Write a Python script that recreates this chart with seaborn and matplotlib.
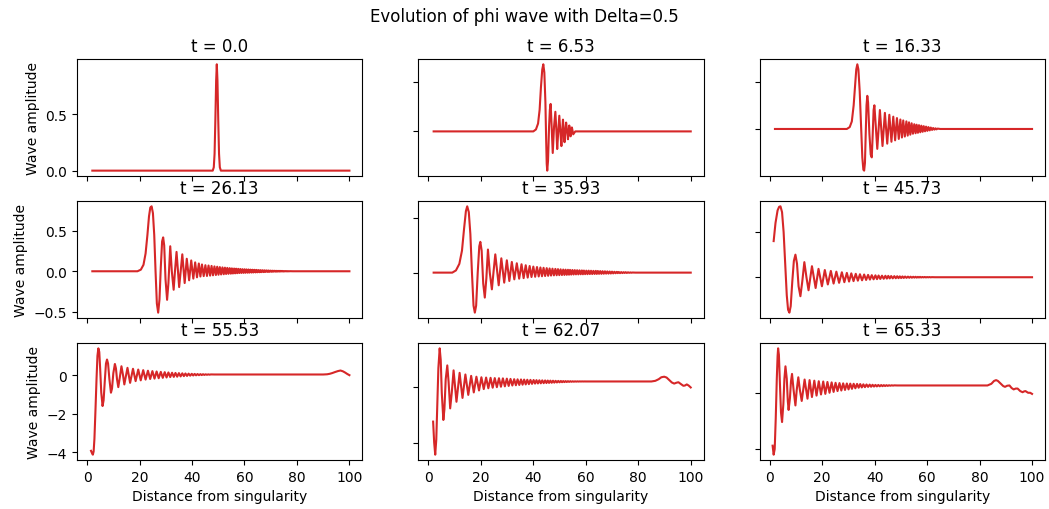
import numpy as np
import pandas as pd
import matplotlib
matplotlib.use("Agg")
import matplotlib.pyplot as plt
import seaborn as sns

titles = ["t = 0.0", "t = 6.53", "t = 16.33", "t = 26.13", "t = 35.93",
          "t = 45.73", "t = 55.53", "t = 62.07", "t = 65.33"]
suptitle = "Evolution of phi wave with Delta=0.5"
xlabel = "Distance from singularity"
ylabel = "Wave amplitude"
line_color = "#d62728"

# ---- panel 1 (t = 0.0)
p1_x = [2, 47.9, 48.3, 48.6, 48.9, 49.2, 49.45, 49.7, 50.0, 50.3, 50.6, 51.0, 100]
p1_y = [0, 0, 0.03, 0.15, 0.45, 0.8, 0.945, 0.8, 0.45, 0.15, 0.03, 0, 0]

# ---- panel 2 (t = 6.53)
p2_x = [2, 40.0, 41.0, 41.8, 42.4, 42.9, 43.4, 43.8, 44.2, 44.6, 44.9, 45.1, 45.3, 45.6,
        46.0, 46.3, 46.6, 46.9, 47.4, 47.9, 48.4, 48.8, 49.1, 49.5, 49.9, 50.3, 50.7, 51.0,
        51.3, 51.6, 51.9, 52.2, 52.5, 52.9, 53.2, 53.5, 53.7, 54.0, 54.2, 54.5, 54.7, 55.0,
        55.2, 56.0, 100]
p2_y = [0, 0, 0.02, 0.08, 0.22, 0.45, 0.63, 0.684, 0.6, 0.3, -0.1, -0.33, -0.40, -0.3,
        0.05, 0.22, 0.28, 0.1, -0.22, 0.05, 0.20, 0.0, -0.18, 0.0, 0.16, 0.0, -0.15, 0.0,
        0.12, 0.0, -0.11, 0.0, 0.09, 0.0, -0.08, 0.0, 0.06, 0.0, -0.05, 0.0, 0.04, 0.0,
        -0.03, 0, 0]

# ---- panel 3 (t = 16.33)
p3_shape_x = [2, 29.4, 30.5, 31.3, 32.0, 32.6, 33.0, 33.4, 33.8, 34.3, 34.8, 35.3, 35.7,
              36.0, 36.3, 36.6, 36.9, 37.2, 37.5, 38.0, 38.5, 38.9, 39.2, 39.6, 39.9, 40.5,
              41.0, 65, 100]
p3_shape_y = [0, 0, 0.02, 0.08, 0.25, 0.48, 0.63, 0.683, 0.63, 0.4, 0.05, -0.3, -0.43,
              -0.44, -0.36, -0.05, 0.25, 0.35, 0.28, -0.05, -0.27, -0.30, -0.1, 0.2, 0.25,
              0.0, -0.21, 0, 0]
p3_peak_x = [42.0, 43.9, 45.6, 47.1, 48.5, 49.8, 50.9, 52.1, 53.1, 54.1, 55.1, 56.0, 56.9,
             57.8, 58.7, 59.6, 60.5, 61.4, 62.3, 63.2, 64.0]
p3_peak_y = [0.20, 0.17, 0.15, 0.13, 0.115, 0.10, 0.09, 0.08, 0.07, 0.06, 0.05, 0.045, 0.04,
             0.035, 0.03, 0.025, 0.02, 0.015, 0.01, 0.007, 0.004]
p3_trough_x = [43.0, 44.8, 46.4, 47.8, 49.2, 50.4, 51.5, 52.6, 53.6, 54.6, 55.6, 56.5, 57.4,
               58.3, 59.2, 60.1, 61.0, 61.9, 62.8, 63.6]
p3_trough_y = [-0.18, -0.155, -0.135, -0.12, -0.105, -0.09, -0.08, -0.07, -0.06, -0.05,
               -0.045, -0.04, -0.035, -0.03, -0.025, -0.02, -0.015, -0.01, -0.007, -0.004]

# ---- panel 4 (t = 26.13)
p4_shape_x = [2, 19.2, 20.5, 21.5, 22.3, 23.0, 23.6, 24.1, 24.6, 25.1, 25.6, 26.1, 26.6,
              27.1, 27.6, 28.1, 28.6, 29.0, 29.4, 29.9, 30.5, 31.0, 31.7, 32.3, 33.0, 33.5,
              34.1, 35.1, 36.3, 37.2, 38.0, 38.9, 39.7, 40.5, 41.2, 41.9, 42.6, 43.2, 43.8,
              44.45, 78.5, 100]
p4_shape_y = [0, 0, 0.02, 0.08, 0.22, 0.45, 0.68, 0.79, 0.805, 0.72, 0.45, 0.0, -0.4,
              -0.513, -0.35, 0.05, 0.37, 0.42, 0.32, -0.1, -0.354, -0.15, 0.31, 0.0, -0.229,
              0.0, 0.24, -0.196, 0.21, -0.146, 0.155, -0.112, 0.134, -0.091, 0.11, -0.075,
              0.096, -0.065, 0.084, -0.06, 0, 0]
p4_peak_x = [45.1, 46.3, 47.45, 48.55, 49.6, 50.6, 51.6, 52.55, 53.45, 54.35, 55.2, 56.05,
             56.85, 57.65, 58.45, 59.25, 60.05, 60.8, 61.55, 62.3, 63.05, 63.8, 64.55, 65.3,
             66.05, 66.8, 67.55, 68.3, 69.05, 69.8, 70.55, 71.3, 72.05, 72.8, 73.55, 74.3,
             75.05, 75.8, 76.55, 77.3]
p4_peak_y = [0.075, 0.071, 0.066, 0.06, 0.056, 0.052, 0.048, 0.045, 0.042, 0.039, 0.036,
             0.034, 0.032, 0.03, 0.028, 0.026, 0.025, 0.023, 0.022, 0.02, 0.019, 0.018,
             0.017, 0.015, 0.014, 0.013, 0.012, 0.011, 0.01, 0.009, 0.008, 0.007, 0.006,
             0.005, 0.005, 0.004, 0.003, 0.003, 0.002, 0.001]
p4_trough_x = [45.7, 46.9, 48.0, 49.1, 50.1, 51.1, 52.1, 53.0, 53.9, 54.8, 55.6, 56.45,
               57.25, 58.05, 58.85, 59.65, 60.4, 61.2, 61.9, 62.7, 63.4, 64.2, 64.9, 65.7,
               66.4, 67.2, 67.9, 68.7, 69.4, 70.2, 70.9, 71.7, 72.4, 73.2, 73.9, 74.7, 75.4,
               76.2, 76.9]
p4_trough_y = [-0.058, -0.054, -0.05, -0.046, -0.043, -0.04, -0.037, -0.034, -0.032, -0.03,
               -0.028, -0.026, -0.024, -0.022, -0.021, -0.02, -0.019, -0.018, -0.017,
               -0.016, -0.015, -0.014, -0.013, -0.012, -0.011, -0.01, -0.009, -0.008,
               -0.008, -0.007, -0.006, -0.005, -0.005, -0.004, -0.003, -0.003, -0.002,
               -0.002, -0.001]

# ---- panel 5 (t = 35.93)
p5_shape_x = [2, 9.1, 10.5, 11.8, 12.8, 13.6, 14.3, 14.8, 15.4, 16.0, 16.6, 17.2, 17.7,
              18.2, 18.8, 19.4, 19.8, 20.3, 20.9, 21.5, 22.1, 22.7, 23.4, 24.2, 24.8, 25.5,
              26.8, 27.8, 28.9, 29.9, 30.85, 31.8, 32.75, 33.7, 34.6, 35.5, 36.3, 37.1,
              37.85, 38.6, 39.3, 79, 100]
p5_shape_y = [0, 0, 0.02, 0.08, 0.2, 0.4, 0.56, 0.603, 0.55, 0.35, 0.0, -0.3, -0.364,
              -0.3, 0.0, 0.24, 0.28, 0.2, -0.1, -0.227, -0.05, 0.21, 0.0, -0.152, 0.0,
              0.166, -0.115, 0.13, -0.091, 0.112, -0.076, 0.097, -0.061, 0.085, -0.055,
              0.076, -0.05, 0.067, -0.045, 0.06, -0.04, 0, 0]
p5_peak_x = [40.0, 41.4, 42.7, 43.9, 45.1, 46.2, 47.3, 48.4, 49.4, 50.4, 51.4, 52.3, 53.2,
             54.0, 54.9, 55.8, 56.7, 57.6, 58.5, 59.3, 60.2, 61.1, 62.0, 62.9, 63.8, 64.6,
             65.5, 66.4, 67.3, 68.2, 69.1, 70.0, 70.9, 71.8, 72.6, 73.5, 74.4, 75.2, 76.1,
             77.0, 77.8]
p5_peak_y = [0.055, 0.051, 0.047, 0.044, 0.041, 0.038, 0.036, 0.034, 0.032, 0.03, 0.028,
             0.027, 0.026, 0.025, 0.024, 0.023, 0.022, 0.021, 0.02, 0.019, 0.018, 0.018,
             0.017, 0.016, 0.016, 0.015, 0.014, 0.013, 0.012, 0.011, 0.01, 0.009, 0.008,
             0.007, 0.006, 0.005, 0.004, 0.004, 0.003, 0.002, 0.001]
p5_trough_x = [40.7, 42.05, 43.3, 44.5, 45.65, 46.75, 47.85, 48.9, 49.9, 50.9, 51.85, 52.75,
               53.6, 54.45, 55.35, 56.25, 57.15, 58.05, 58.9, 59.75, 60.65, 61.55, 62.45,
               63.35, 64.2, 65.05, 65.95, 66.85, 67.75, 68.65, 69.55, 70.45, 71.35, 72.2,
               73.05, 73.95, 74.8, 75.65, 76.55, 77.4]
p5_trough_y = [-0.038, -0.035, -0.033, -0.031, -0.029, -0.027, -0.025, -0.024, -0.023,
               -0.022, -0.021, -0.02, -0.019, -0.018, -0.017, -0.016, -0.016, -0.015,
               -0.015, -0.014, -0.014, -0.013, -0.013, -0.012, -0.012, -0.011, -0.011,
               -0.01, -0.009, -0.009, -0.008, -0.007, -0.006, -0.005, -0.005, -0.004,
               -0.003, -0.003, -0.002, -0.001]

# ---- panel 6 (t = 45.73)
p6_shape_x = [1.5, 2.2, 3.0, 3.6, 4.1, 4.7, 5.3, 5.9, 6.5, 7.0, 7.5, 8.0, 8.6, 9.2, 9.8,
              10.4, 11.0, 11.7, 12.4, 13.2, 14.0, 14.8, 15.5, 16.1, 17.5, 18.6, 63, 100]
p6_shape_y = [0.40, 0.6, 0.74, 0.78, 0.785, 0.72, 0.5, 0.15, -0.2, -0.36, -0.392, -0.32,
              -0.05, 0.18, 0.25, 0.15, -0.1, -0.21, -0.05, 0.167, 0.0, -0.144, 0.0, 0.122,
              -0.119, 0.093, 0, 0]
p6_peak_x = [21.0, 23.3, 25.4, 27.5, 29.4, 31.1, 32.8, 34.4, 36.0, 37.5, 38.9, 40.3, 41.5,
             42.8, 44.1, 45.2, 46.3, 47.5, 48.6, 49.6, 50.6, 51.6, 52.7, 53.7, 54.7, 55.6,
             56.5, 57.3, 58.2, 59.1, 60.0, 60.9, 61.8]
p6_peak_y = [0.08, 0.07, 0.062, 0.055, 0.048, 0.043, 0.038, 0.033, 0.03, 0.026, 0.023, 0.021,
             0.019, 0.017, 0.016, 0.015, 0.013, 0.012, 0.011, 0.01, 0.009, 0.008, 0.007,
             0.006, 0.005, 0.005, 0.004, 0.004, 0.003, 0.003, 0.002, 0.002, 0.001]
p6_trough_x = [19.9, 22.15, 24.35, 26.45, 28.45, 30.25, 31.95, 33.6, 35.2, 36.75, 38.2, 39.6,
               40.9, 42.15, 43.45, 44.65, 45.75, 46.9, 48.05, 49.1, 50.1, 51.1, 52.15, 53.2,
               54.2, 55.15, 56.05, 56.9, 57.75, 58.65, 59.55, 60.45, 61.35]
p6_trough_y = [-0.10, -0.08, -0.07, -0.062, -0.055, -0.048, -0.043, -0.038, -0.034, -0.03,
               -0.026, -0.023, -0.021, -0.019, -0.017, -0.015, -0.013, -0.012, -0.011, -0.01,
               -0.009, -0.008, -0.007, -0.006, -0.005, -0.004, -0.004, -0.003, -0.003,
               -0.002, -0.002, -0.001, -0.001]

# ---- panel 7 (t = 55.53)
p7_shape_x = [1.5, 1.9, 2.2, 2.5, 2.8, 3.2, 3.6, 3.95, 4.3, 4.65, 5.0, 5.4, 5.9, 6.3, 6.8,
              7.2, 7.6, 8.0, 8.5, 9.1, 9.5, 10.0, 10.6, 11.0, 11.4, 11.9, 12.5, 13.1, 13.7,
              14.2, 15.4, 16.4, 17.5, 18.5, 48.5, 90, 91.5, 92.5, 93.5, 94.5, 95.6, 96.6,
              97.5, 98.3, 99.2, 100]
p7_shape_y = [-3.92, -4.05, -4.12, -3.95, -3.3, -1.8, -0.2, 1.0, 1.39, 1.2, 0.3, -0.9, -1.60,
              -1.3, -0.2, 0.6, 0.81, 0.6, -0.2, -0.91, -0.7, 0.1, 0.58, 0.35, -0.2, -0.62,
              -0.1, 0.46, 0.0, -0.48, 0.38, -0.40, 0.33, -0.31, 0.034, 0.034, 0.045, 0.07,
              0.11, 0.16, 0.21, 0.24, 0.2, 0.14, 0.06, 0.0]
p7_peak_x = [19.5, 21.4, 23.2, 24.9, 26.5, 28.1, 29.6, 31.0, 32.4, 33.7, 35.0, 36.3, 37.5,
             38.7, 39.9, 41.0, 42.1, 43.2, 44.2, 45.2, 46.2, 47.2]
p7_peak_y = [0.29, 0.26, 0.23, 0.21, 0.19, 0.17, 0.155, 0.14, 0.125, 0.115, 0.105, 0.095,
             0.086, 0.078, 0.07, 0.064, 0.058, 0.053, 0.049, 0.045, 0.041, 0.038]
p7_trough_x = [20.45, 22.3, 24.05, 25.7, 27.3, 28.85, 30.3, 31.7, 33.05, 34.35, 35.65, 36.9,
               38.1, 39.3, 40.45, 41.55, 42.65, 43.7, 44.7, 45.7, 46.7]
p7_trough_y = [-0.27, -0.23, -0.20, -0.18, -0.16, -0.14, -0.12, -0.10, -0.09, -0.08, -0.065,
               -0.05, -0.04, -0.028, -0.018, -0.01, -0.002, 0.005, 0.012, 0.018, 0.024]

# ---- panel 8 (t = 62.07)
p8_shape_x = [1.8, 2.2, 2.6, 3.0, 3.4, 3.8, 4.3, 4.7, 5.1, 5.7, 6.1, 6.6, 7.2, 7.7, 8.3,
              8.9, 9.6, 10.1, 10.7, 11.3, 11.9, 12.4, 13.0, 14.1, 15.2, 16.3, 17.3, 18.3,
              19.3, 60.0, 85, 86.5, 87.8, 88.8, 89.9, 90.8, 91.8, 92.8, 93.7, 94.5, 95.3,
              96.3, 97.2, 97.8, 98.5, 99.2, 100]
p8_shape_y = [-1.24, -2.0, -2.44, -1.9, -0.6, 0.7, 1.42, 1.0, -0.2, -1.18, -0.8, 0.3, 0.80,
              0.2, -0.76, -0.2, 0.62, 0.1, -0.52, 0.0, 0.53, 0.1, -0.38, 0.47, -0.27, 0.42,
              -0.18, 0.39, -0.11, 0.217, 0.217, 0.24, 0.3, 0.37, 0.39, 0.36, 0.27, 0.18,
              0.14, 0.17, 0.19, 0.12, 0.06, 0.07, 0.11, 0.07, 0.0]
p8_peak_x = [20.2, 22.0, 23.7, 25.3, 26.9, 28.4, 29.9, 31.3, 32.7, 34.0, 35.3, 36.5, 37.7,
             38.9, 40.1, 41.2, 42.3, 43.4, 44.5, 45.5, 46.5, 47.5, 48.5, 49.5, 50.5, 51.4,
             52.3, 53.2, 54.1, 55.0, 55.9, 56.8, 57.7, 58.6, 59.5]
p8_peak_y = [0.37, 0.36, 0.35, 0.34, 0.335, 0.33, 0.32, 0.31, 0.30, 0.295, 0.29, 0.285, 0.28,
             0.275, 0.27, 0.265, 0.26, 0.257, 0.254, 0.25, 0.247, 0.244, 0.241, 0.238, 0.235,
             0.232, 0.23, 0.228, 0.226, 0.224, 0.222, 0.221, 0.22, 0.219, 0.218]
p8_trough_x = [21.1, 22.85, 24.5, 26.1, 27.65, 29.15, 30.6, 32.0, 33.35, 34.65, 35.9, 37.1,
               38.3, 39.5, 40.65, 41.75, 42.85, 43.95, 45.0, 46.0, 47.0, 48.0, 49.0, 50.0,
               50.95, 51.85, 52.75, 53.65, 54.55, 55.45, 56.35, 57.25, 58.15, 59.05]
p8_trough_y = [-0.06, -0.03, -0.01, 0.01, 0.025, 0.04, 0.055, 0.07, 0.08, 0.09, 0.10, 0.11,
               0.12, 0.13, 0.14, 0.145, 0.15, 0.155, 0.16, 0.165, 0.17, 0.175, 0.18, 0.185,
               0.19, 0.194, 0.198, 0.202, 0.205, 0.208, 0.211, 0.213, 0.215, 0.216]

# ---- panel 9 (t = 65.33)
p9_shape_x = [1.1, 1.5, 1.9, 2.3, 2.7, 3.0, 3.2, 3.5, 3.9, 4.3, 4.7, 5.2, 5.6, 6.0, 6.5,
              6.9, 7.2, 7.7, 8.1, 8.5, 9.1, 9.8, 10.3, 10.9, 11.5, 12.2, 48.5, 83, 84.5,
              85.5, 86.3, 87.0, 88.0, 89.0, 89.7, 90.5, 91.4, 92.2, 93.0, 93.8, 94.5, 95.5,
              96.4, 97.0, 97.5, 98.5, 99.3, 100]
p9_shape_y = [-1.88, -2.20, -2.0, -0.9, 0.5, 1.3, 1.58, 1.35, 0.3, -0.7, -1.04, -0.4, 0.5,
              0.94, 0.5, -0.3, -0.61, -0.2, 0.4, 0.67, 0.1, -0.45, 0.1, 0.55, 0.1, -0.29,
              0.26, 0.26, 0.32, 0.42, 0.45, 0.42, 0.33, 0.24, 0.21, 0.25, 0.26, 0.17, 0.12,
              0.15, 0.15, 0.06, 0.02, 0.05, 0.06, 0.0, 0.0, -0.04]
p9_peak_x = [13.3, 15.2, 17.0, 18.7, 20.4, 22.0, 23.6, 25.1, 26.6, 28.0, 29.4, 30.7, 32.0,
             33.3, 34.5, 35.7, 36.9, 38.1, 39.2, 40.3, 41.4, 42.5, 43.5, 44.5, 45.5, 46.5,
             47.5]
p9_peak_y = [0.47, 0.45, 0.43, 0.41, 0.40, 0.385, 0.37, 0.355, 0.345, 0.335, 0.33, 0.325,
             0.32, 0.315, 0.31, 0.30, 0.295, 0.29, 0.285, 0.28, 0.278, 0.275, 0.272, 0.27,
             0.268, 0.266, 0.264]
p9_trough_x = [14.4, 16.1, 17.85, 19.55, 21.2, 22.8, 24.35, 25.85, 27.3, 28.7, 30.05, 31.35,
               32.65, 33.9, 35.1, 36.3, 37.5, 38.65, 39.75, 40.85, 41.95, 43.0, 44.0, 45.0,
               46.0, 47.0]
p9_trough_y = [-0.21, -0.15, -0.10, -0.06, -0.04, 0.0, 0.03, 0.06, 0.08, 0.10, 0.12, 0.14,
               0.16, 0.18, 0.19, 0.20, 0.21, 0.215, 0.22, 0.225, 0.23, 0.235, 0.24, 0.245,
               0.25, 0.255]


def panel(*pairs):
    xs, ys = [], []
    for x, y in pairs:
        xs.extend(x)
        ys.extend(y)
    return pd.DataFrame({"x": xs, "y": ys})


panels = [
    panel((p1_x, p1_y)),
    panel((p2_x, p2_y)),
    panel((p3_shape_x, p3_shape_y), (p3_peak_x, p3_peak_y), (p3_trough_x, p3_trough_y)),
    panel((p4_shape_x, p4_shape_y), (p4_peak_x, p4_peak_y), (p4_trough_x, p4_trough_y)),
    panel((p5_shape_x, p5_shape_y), (p5_peak_x, p5_peak_y), (p5_trough_x, p5_trough_y)),
    panel((p6_shape_x, p6_shape_y), (p6_peak_x, p6_peak_y), (p6_trough_x, p6_trough_y)),
    panel((p7_shape_x, p7_shape_y), (p7_peak_x, p7_peak_y), (p7_trough_x, p7_trough_y)),
    panel((p8_shape_x, p8_shape_y), (p8_peak_x, p8_peak_y), (p8_trough_x, p8_trough_y)),
    panel((p9_shape_x, p9_shape_y), (p9_peak_x, p9_peak_y), (p9_trough_x, p9_trough_y)),
]

fig, axes = plt.subplots(3, 3, figsize=(10.49, 5.10), dpi=100, sharex=True)
fig.subplots_adjust(left=0.0734, right=0.9962, top=0.8824, bottom=0.0961,
                    wspace=0.196, hspace=0.214)

for i, ax in enumerate(axes.flat):
    df = panels[i]
    sns.lineplot(data=df, x="x", y="y", ax=ax, color=line_color, linewidth=1.5,
                 estimator=None, sort=True)
    ax.set_title(titles[i], fontsize=12)
    r, c = divmod(i, 3)
    ax.set_xlabel(xlabel if r == 2 else "")
    ax.set_ylabel(ylabel if c == 0 else "")
    if c != 0:
        ax.tick_params(labelleft=False)

axes[2, 0].set_xticks([0, 20, 40, 60, 80, 100])
fig.suptitle(suptitle, fontsize=12, y=0.985)
fig.savefig("out.png", dpi=100)
